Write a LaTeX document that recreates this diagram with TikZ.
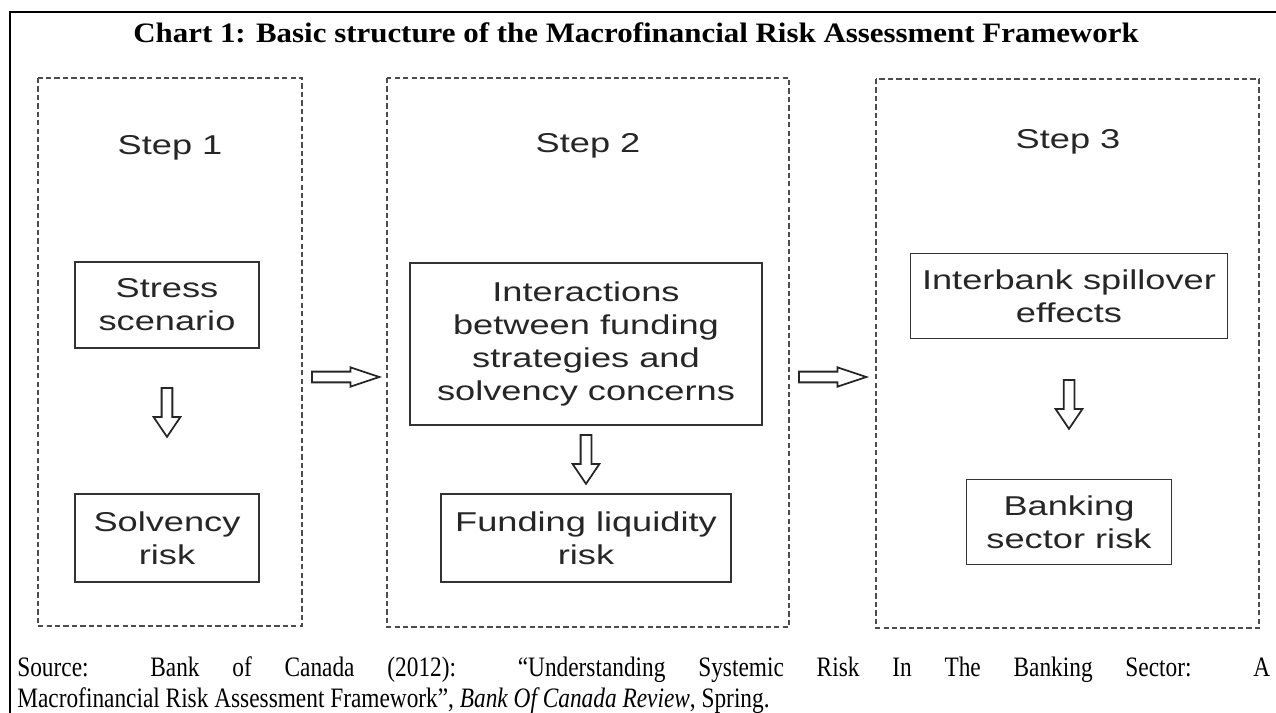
\documentclass[tikz,border=0pt]{standalone}
\usepackage{fontspec}
\setmainfont{Liberation Serif}
\newfontfamily\titlefont[FakeStretch=1.1]{Liberation Serif}
\newfontfamily\boxfont[FakeStretch=1.33]{Liberation Sans}
\newfontfamily\notefont[FakeStretch=0.83]{Liberation Serif}
\usetikzlibrary{shapes.arrows, positioning, calc}

\begin{document}
\begin{tikzpicture}[
    x=0.02cm,
    y=-0.02cm,
    pageframe/.style={draw=black, line width=1.2pt},
    stepframe/.style={draw=black!70, line width=0.8pt, dash pattern=on 3pt off 1.8pt},
    riskbox/.style={draw=black!80, line width=1pt, align=center, inner sep=0pt, text=black!85,
        font=\boxfont\fontsize{15.5}{18.8}\selectfont},
    steplabel/.style={anchor=base, text=black!85, font=\boxfont\fontsize{15.5}{18.8}\selectfont},
    blockarrow/.style={single arrow, draw=black!85, line width=1pt, fill=white,
        inner sep=0.09cm, single arrow head indent=0pt, anchor=tail},
    downarrow/.style={blockarrow, shape border rotate=270, minimum height=0.98cm,
        single arrow head extend=0.16cm, single arrow tip angle=68},
    rightarrow/.style={blockarrow, minimum height=1.35cm,
        single arrow head extend=0.085cm, single arrow tip angle=37}
]
    \useasboundingbox (0,0) rectangle (1276,713);

    % --- Page frame and title ---
    \draw[pageframe] (10,713) -- (10,12) -- (1276,12);
    \node[anchor=base, font=\titlefont\bfseries\fontsize{16}{19}\selectfont] (title) at (636,43)
        {Chart 1: Basic structure of the Macrofinancial Risk Assessment Framework};

    % --- Step frames ---
    \draw[stepframe] (38,78) rectangle (302,626);
    \draw[stepframe] (387,78) rectangle (789,627);
    \draw[stepframe] (876,79) rectangle (1259,628);

    \node[steplabel] (step1) at (170,154) {Step 1};
    \node[steplabel] (step2) at (588,153) {Step 2};
    \node[steplabel] (step3) at (1068,149) {Step 3};

    % --- Step 1 ---
    \node[riskbox, minimum width=3.68cm, minimum height=1.72cm] (stress) at (167,305) {Stress\\scenario};
    \node[downarrow] (arr1) at (167,387) {};
    \node[riskbox, minimum width=3.68cm, minimum height=1.76cm] (solv) at (167,538) {Solvency\\risk};

    % --- Step 2 ---
    \node[riskbox, minimum width=7.04cm, minimum height=3.24cm] (inter) at (586,344)
        {Interactions\\between funding\\strategies and\\solvency concerns};
    \node[downarrow] (arr2) at (586,434) {};
    \node[riskbox, minimum width=5.8cm, minimum height=1.76cm] (fund) at (586,538) {Funding liquidity\\risk};

    % --- Step 3 ---
    \node[riskbox, minimum width=6.34cm, minimum height=1.7cm] (spill) at (1069,296) {Interbank spillover\\effects};
    \node[downarrow] (arr3) at (1069,379) {};
    \node[riskbox, minimum width=4.1cm, minimum height=1.7cm] (bank) at (1069,522) {Banking\\sector risk};

    % --- Links between steps ---
    \node[rightarrow] (link12) at (311,377) {};
    \node[rightarrow] (link23) at (798,377) {};

    % --- Source note ---
    \node[anchor=north west, inner sep=0pt, text width=25.06cm, align=justify,
        font=\notefont\fontsize{16}{17.6}\selectfont] (source) at (17,656)
        {Source: Bank of Canada (2012): “Understanding Systemic Risk In The Banking Sector: A\linebreak
         Macrofinancial Risk Assessment Framework”, \textit{Bank Of Canada Review}, Spring.};
\end{tikzpicture}
\end{document}
